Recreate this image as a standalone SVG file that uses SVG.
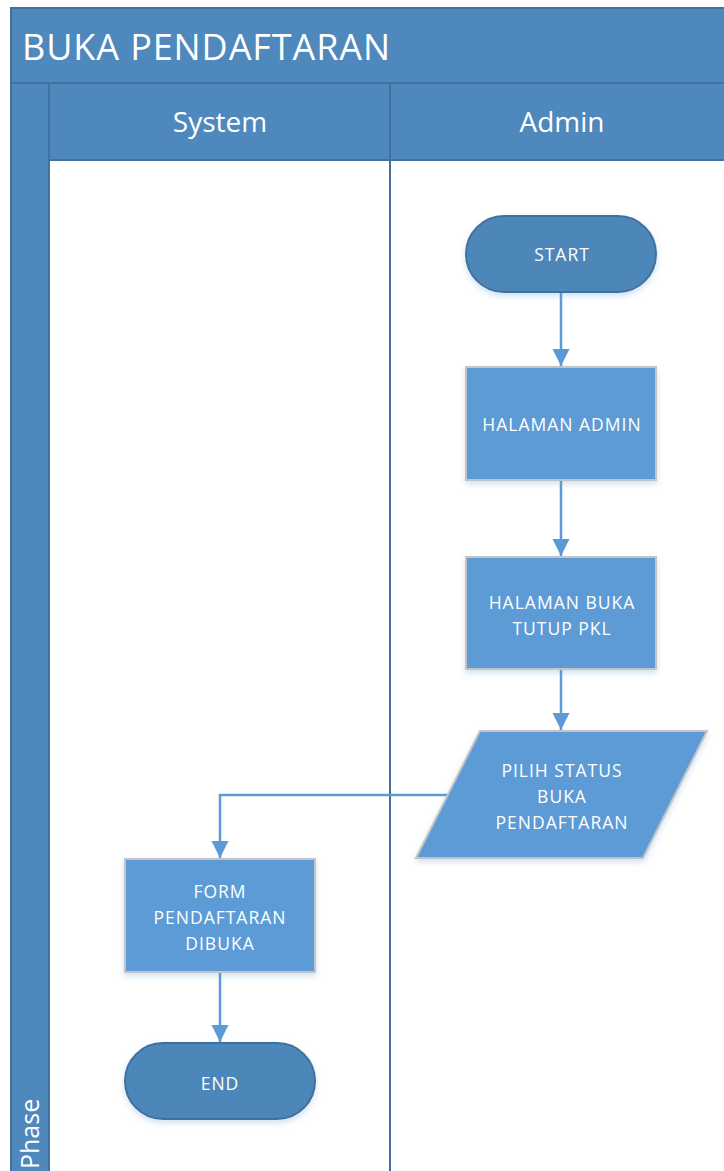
<svg xmlns="http://www.w3.org/2000/svg" width="724" height="1171" viewBox="0 0 724 1171">
  <style>
    .band{fill:#4f88bc;stroke:#41719c;stroke-width:2}
    .lane{fill:#ffffff;stroke:#41719c;stroke-width:2}
    .hdr{font-family:"Open Sans","Liberation Sans",sans-serif;fill:#ffffff}
    .proc{fill:#5b9bd5;stroke:#c4c4c4;stroke-width:2;filter:url(#sh)}
    .term{fill:#4e87ba;stroke:#41719c;stroke-width:2;filter:url(#sh)}
    .lbl{font-family:"Open Sans","Liberation Sans",sans-serif;font-size:17.5px;fill:#ffffff;text-anchor:middle;letter-spacing:1px}
    .wire{fill:none;stroke:#5b9bd5;stroke-width:2.5}
  </style>
  <defs>
    <marker id="arr" viewBox="0 0 10 10" refX="10" refY="5" markerWidth="7" markerHeight="7" markerUnits="strokeWidth" orient="auto">
      <path d="M0,0 L10,5 L0,10 z" fill="#5b9bd5"/>
    </marker>
    <filter id="sh" x="-20%" y="-20%" width="140%" height="150%">
      <feDropShadow dx="0" dy="3" stdDeviation="3" flood-color="#5b9bd5" flood-opacity="0.3"/>
    </filter>
  </defs>

  <rect width="724" height="1171" fill="#ffffff"/>

  <!-- pool frame -->
  <g id="pool">
    <rect class="band" x="11" y="8" width="720" height="1170"/>
    <rect class="lane" x="49" y="160" width="341" height="1020"/>
    <rect class="lane" x="390" y="160" width="340" height="1020"/>
    <rect class="band" x="49" y="83" width="341" height="77"/>
    <rect class="band" x="390" y="83" width="340" height="77"/>
    <line x1="11" y1="83" x2="730" y2="83" stroke="#41719c" stroke-width="2"/>
    <text class="hdr" x="22" y="60" font-size="36" letter-spacing="0.9">BUKA PENDAFTARAN</text>
    <text class="hdr" x="220" y="132" font-size="28" text-anchor="middle">System</text>
    <text class="hdr" x="562" y="132" font-size="28" text-anchor="middle">Admin</text>
    <text class="hdr" transform="translate(39,1169) rotate(-90)" font-size="25">Phase</text>
  </g>

  <!-- connectors -->
  <g id="connectors">
    <line class="wire" x1="561" y1="292" x2="561" y2="366" marker-end="url(#arr)"/>
    <line class="wire" x1="561" y1="480" x2="561" y2="556" marker-end="url(#arr)"/>
    <line class="wire" x1="561" y1="669" x2="561" y2="730" marker-end="url(#arr)"/>
    <polyline class="wire" points="448,795 220,795 220,858" marker-end="url(#arr)"/>
    <line class="wire" x1="220" y1="972" x2="220" y2="1042" marker-end="url(#arr)"/>
  </g>

  <g id="start">
    <rect class="term" x="466" y="216" width="190" height="76" rx="38" ry="38"/>
    <text class="lbl" x="562" y="261">START</text>
  </g>

  <g id="halaman-admin">
    <rect class="proc" x="466" y="367" width="190" height="113"/>
    <text class="lbl" x="562" y="431">HALAMAN ADMIN</text>
  </g>

  <g id="halaman-buka-tutup">
    <rect class="proc" x="466" y="557" width="190" height="112"/>
    <text class="lbl" x="562" y="609">HALAMAN BUKA</text>
    <text class="lbl" x="562" y="635">TUTUP PKL</text>
  </g>

  <g id="pilih-status">
    <polygon class="proc" points="480,731 707,731 643,858 416,858"/>
    <text class="lbl" x="562" y="777">PILIH STATUS</text>
    <text class="lbl" x="562" y="803">BUKA</text>
    <text class="lbl" x="562" y="829">PENDAFTARAN</text>
  </g>

  <g id="form-dibuka">
    <rect class="proc" x="125" y="859" width="190" height="113"/>
    <text class="lbl" x="220" y="898">FORM</text>
    <text class="lbl" x="220" y="924">PENDAFTARAN</text>
    <text class="lbl" x="220" y="950">DIBUKA</text>
  </g>

  <g id="end">
    <rect class="term" x="125" y="1043" width="190" height="76" rx="38" ry="38"/>
    <text class="lbl" x="220" y="1090">END</text>
  </g>
</svg>
